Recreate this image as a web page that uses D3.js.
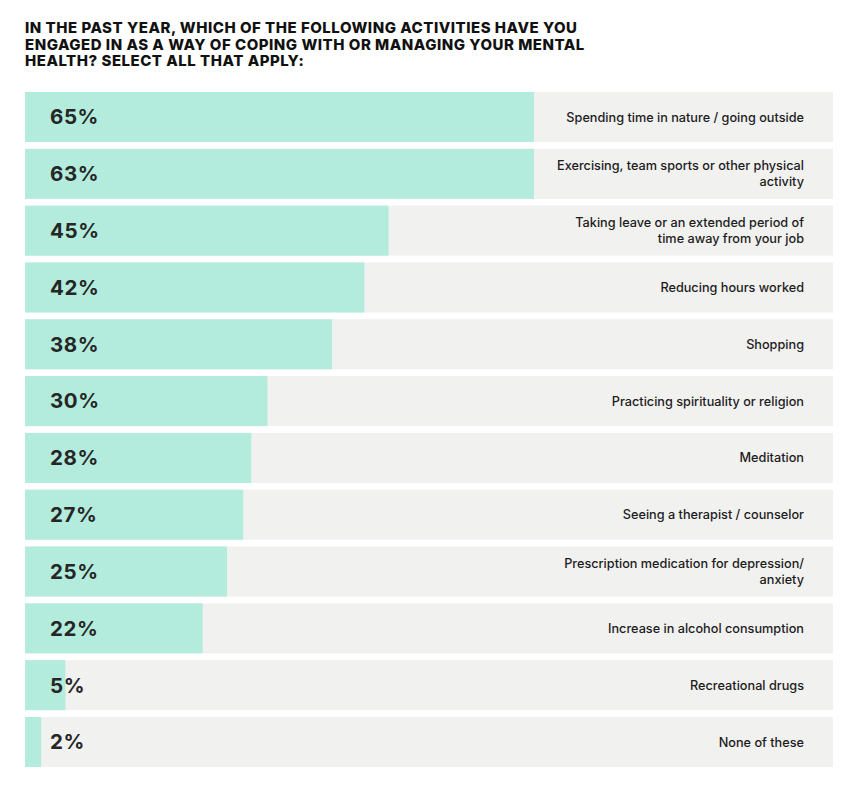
<!DOCTYPE html>
<html><head><meta charset="utf-8">
<script src="https://cdn.jsdelivr.net/npm/d3@7"></script>
<style>
html,body{margin:0;padding:0;background:#fff;}
svg{display:block;font-family:Inter,"Noto Sans",sans-serif;}
</style></head>
<body><div id="chart"></div>
<script>
const titleLines = [
  "IN THE PAST YEAR, WHICH OF THE FOLLOWING ACTIVITIES HAVE YOU",
  "ENGAGED IN AS A WAY OF COPING WITH OR MANAGING YOUR MENTAL",
  "HEALTH? SELECT ALL THAT APPLY:"
];
const categories = [
  "Spending time in nature / going outside",
  "Exercising, team sports or other physical activity",
  "Taking leave or an extended period of time away from your job",
  "Reducing hours worked",
  "Shopping",
  "Practicing spirituality or religion",
  "Meditation",
  "Seeing a therapist / counselor",
  "Prescription medication for depression/ anxiety",
  "Increase in alcohol consumption",
  "Recreational drugs",
  "None of these"
];
const values = [65, 63, 45, 42, 38, 30, 28, 27, 25, 22, 5, 2];

(function () {
const W = 858, H = 800;
const mLeft = 25, mRight = 833, mTop = 92, mBottom = 767;
const gap = 6.8;
const labelZone = 534; // bars never run into the label area

const svg = d3.select("#chart").append("svg").attr("width", W).attr("height", H);

// title (one text block)
const title = svg.append("text")
  .attr("font-size", 15).attr("font-weight", 800).attr("fill", "#111");
const tl = title.selectAll("tspan").data(titleLines).join("tspan")
  .attr("x", mLeft).attr("y", (d, i) => 33.3 + i * 16.2)
  .text(d => d);
const w0 = tl.node().getComputedTextLength();
const ls = (552 - w0) / (titleLines[0].length - 1);
title.attr("letter-spacing", ls);

const x = d3.scaleLinear().domain([0, 100]).range([mLeft, mRight]);
const y = d3.scaleBand().domain(categories).range([mTop, mBottom + gap]);
const rowH = y.bandwidth() - gap;

const rows = svg.append("g").selectAll("g").data(categories).join("g")
  .attr("transform", d => `translate(0,${y(d)})`);

rows.append("rect").attr("x", x(0)).attr("width", x(100) - x(0)).attr("height", rowH).attr("fill", "#f1f1f0");
rows.append("rect").attr("x", x(0))
  .attr("width", (d, i) => Math.min(x(values[i]), labelZone) - x(0))
  .attr("height", rowH).attr("fill", "#b3ecdd");

rows.append("text").attr("x", 50).attr("y", rowH / 2).attr("dy", "0.36em")
  .attr("font-size", 20.5).attr("font-weight", 700).attr("fill", "#262626").attr("letter-spacing", 0.6)
  .text((d, i) => values[i] + "%");

const maxW = 250;
rows.each(function (d) {
  const g = d3.select(this);
  const t = g.append("text").attr("text-anchor", "end").attr("font-size", 12.7).attr("font-weight", 500).attr("fill", "#1c1c1c");
  const words = d.split(" ");
  const lines = [];
  let cur = [];
  const probe = t.append("tspan");
  words.forEach(wd => {
    const test = cur.concat([wd]).join(" ");
    probe.text(test);
    if (probe.node().getComputedTextLength() > maxW && cur.length) {
      lines.push(cur.join(" ")); cur = [wd];
    } else cur.push(wd);
  });
  lines.push(cur.join(" "));
  probe.remove();
  const lh = 16;
  const y0 = rowH / 2 - (lines.length - 1) * lh / 2;
  lines.forEach((ln, i) => t.append("tspan").attr("x", 804).attr("y", y0 + i * lh).attr("dy", "0.36em").text(ln));
});
})();
</script></body></html>
